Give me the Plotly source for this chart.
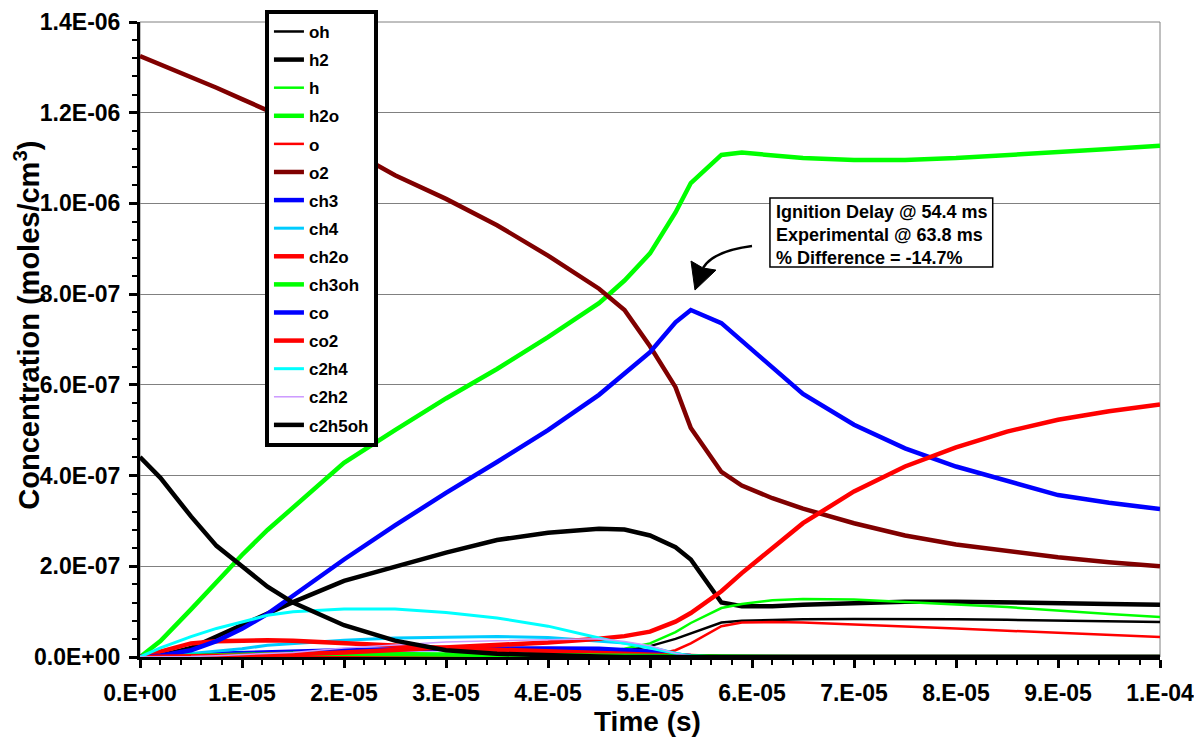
import plotly.graph_objects as go

# ---------------- data ----------------
time_s = [0, 2e-6, 5e-6, 7.5e-6, 1.0e-5, 1.25e-5, 1.5e-5, 2.0e-5, 2.5e-5, 3.0e-5,
          3.5e-5, 4.0e-5, 4.5e-5, 4.75e-5, 5.0e-5, 5.25e-5, 5.4e-5, 5.7e-5, 5.9e-5,
          6.2e-5, 6.5e-5, 7.0e-5, 7.5e-5, 8.0e-5, 8.5e-5, 9.0e-5, 9.5e-5, 1.0e-4]

UNIT = 1e-7  # concentrations below are in 1e-7 moles/cm^3

oh = [0, 0, 0, 0, 0, 0, 0, 0, 0, 0, 0, 0.02, 0.08, 0.14, 0.24, 0.4, 0.52, 0.76, 0.8,
      0.82, 0.83, 0.84, 0.84, 0.83, 0.82, 0.8, 0.79, 0.77]
h2 = [0, 0.03, 0.2, 0.45, 0.69, 0.95, 1.21, 1.68, 2.0, 2.3, 2.58, 2.74, 2.83, 2.81, 2.68,
      2.42, 2.15, 1.2, 1.12, 1.12, 1.15, 1.19, 1.22, 1.22, 1.21, 1.19, 1.17, 1.15]
h = [0, 0, 0, 0, 0, 0, 0, 0, 0, 0, 0, 0.02, 0.1, 0.18, 0.3, 0.55, 0.75, 1.08, 1.17,
     1.25, 1.28, 1.27, 1.22, 1.16, 1.1, 1.02, 0.95, 0.88]
h2o = [0, 0.35, 1.05, 1.65, 2.25, 2.8, 3.3, 4.28, 5.0, 5.7, 6.35, 7.05, 7.8, 8.3, 8.9,
       9.8, 10.45, 11.07, 11.12, 11.07, 11.0, 10.96, 10.96, 11.0, 11.06, 11.12, 11.2, 11.27]
o = [0, 0, 0, 0, 0, 0, 0, 0, 0, 0, 0, 0, 0, 0.01, 0.03, 0.15, 0.3, 0.68, 0.76,
     0.77, 0.76, 0.72, 0.68, 0.63, 0.58, 0.53, 0.49, 0.44]
o2 = [13.25, 13.07, 12.8, 12.55, 12.3, 12.05, 11.8, 11.25, 10.62, 10.1, 9.52, 8.85, 8.12,
      7.65, 6.85, 5.95, 5.05, 4.08, 3.78, 3.5, 3.27, 2.95, 2.68, 2.48, 2.33, 2.2, 2.09, 2.0]
ch3 = [0, 0.01, 0.04, 0.07, 0.09, 0.11, 0.13, 0.15, 0.17, 0.18, 0.19, 0.19, 0.18, 0.16,
       0.12, 0.05, 0.02, 0, 0, 0, 0, 0, 0, 0, 0, 0, 0, 0]
ch4 = [0, 0.02, 0.08, 0.13, 0.18, 0.26, 0.3, 0.37, 0.42, 0.44, 0.45, 0.43, 0.36, 0.31,
       0.22, 0.08, 0.02, 0, 0, 0, 0, 0, 0, 0, 0, 0, 0, 0]
ch2o = [0, 0.12, 0.3, 0.35, 0.37, 0.37, 0.36, 0.3, 0.25, 0.2, 0.16, 0.12, 0.09, 0.07,
        0.05, 0.02, 0.01, 0, 0, 0, 0, 0, 0, 0, 0, 0, 0, 0]
ch3oh = [0, 0.01, 0.03, 0.05, 0.06, 0.07, 0.07, 0.07, 0.06, 0.05, 0.04, 0.03, 0.02, 0.02,
         0.01, 0, 0, 0, 0, 0, 0, 0, 0, 0, 0, 0, 0, 0]
co = [0, 0.03, 0.15, 0.35, 0.62, 0.95, 1.35, 2.15, 2.9, 3.62, 4.3, 5.0, 5.78, 6.25, 6.72,
      7.38, 7.65, 7.36, 6.97, 6.38, 5.8, 5.12, 4.6, 4.2, 3.88, 3.57, 3.4, 3.26]
co2 = [0, 0, 0.01, 0.02, 0.03, 0.04, 0.06, 0.1, 0.15, 0.2, 0.26, 0.32, 0.4, 0.46, 0.56,
       0.78, 0.97, 1.45, 1.85, 2.4, 2.95, 3.65, 4.2, 4.62, 4.97, 5.23, 5.42, 5.57]
c2h4 = [0, 0.2, 0.45, 0.63, 0.77, 0.92, 1.0, 1.06, 1.06, 0.98, 0.86, 0.68, 0.42, 0.3,
        0.2, 0.08, 0.03, 0, 0, 0, 0, 0, 0, 0, 0, 0, 0, 0]
c2h2 = [0, 0, 0.01, 0.03, 0.05, 0.07, 0.1, 0.2, 0.27, 0.33, 0.36, 0.38, 0.4, 0.34,
        0.25, 0.08, 0.02, 0, 0, 0, 0, 0, 0, 0, 0, 0, 0, 0]
c2h5oh = [4.41, 3.95, 3.1, 2.45, 2.0, 1.55, 1.2, 0.7, 0.36, 0.15, 0.07, 0.03, 0.01, 0,
          0, 0, 0, 0, 0, 0, 0, 0, 0, 0, 0, 0, 0, 0]

species = ["oh", "h2", "h", "h2o", "o", "o2", "ch3", "ch4", "ch2o", "ch3oh",
           "co", "co2", "c2h4", "c2h2", "c2h5oh"]
series = [oh, h2, h, h2o, o, o2, ch3, ch4, ch2o, ch3oh, co, co2, c2h4, c2h2, c2h5oh]
colors = ["#000000", "#000000", "#00FF00", "#00FF00", "#FF0000", "#800000", "#0000FF",
          "#00CCFF", "#FF0000", "#00FF00", "#0000FF", "#FF0000", "#00FFFF", "#CC99FF",
          "#000000"]
widths = [2.5, 4.5, 2.5, 4.5, 2.5, 4.5, 4.5, 3, 4.5, 4.5, 4.5, 4.5, 3, 1.5, 4.5]

x_tickvals = [0, 1e-5, 2e-5, 3e-5, 4e-5, 5e-5, 6e-5, 7e-5, 8e-5, 9e-5, 1e-4]
x_ticktext = ["0.E+00", "1.E-05", "2.E-05", "3.E-05", "4.E-05", "5.E-05", "6.E-05",
              "7.E-05", "8.E-05", "9.E-05", "1.E-04"]
y_tickvals = [0, 2e-7, 4e-7, 6e-7, 8e-7, 1.0e-6, 1.2e-6, 1.4e-6]
y_ticktext = ["0.0E+00", "2.0E-07", "4.0E-07", "6.0E-07", "8.0E-07", "1.0E-06",
              "1.2E-06", "1.4E-06"]

note_lines = ["Ignition Delay @ 54.4 ms", "Experimental @ 63.8 ms", "% Difference = -14.7%"]

# ---------------- figure ----------------
FONT = "Arial, 'Liberation Sans', Helvetica, sans-serif"
fig = go.Figure()
for name, vals, col, w in zip(species, series, colors, widths):
    fig.add_trace(go.Scatter(
        x=time_s, y=[v * UNIT for v in vals], mode="lines", name=name,
        legendgroup=name, line=dict(color=col, width=w)))

fig.update_layout(
    width=1194, height=744,
    margin=dict(l=140, r=34, t=22, b=87, autoexpand=False),
    paper_bgcolor="white", plot_bgcolor="white",
    font=dict(family=FONT, color="black"),
    showlegend=True,
    legend=dict(x=0.1225, y=1.0, xanchor="left", yanchor="top",
                bgcolor="white", bordercolor="black", borderwidth=4,
                font=dict(size=17, weight="bold", family=FONT),
                tracegroupgap=3, traceorder="grouped", itemwidth=30),
)
# legend top sits slightly above the plot area in the reference
try:
    fig.update_layout(legend_maxheight=600, legend_y=1.019)
except Exception:
    pass

fig.update_xaxes(
    range=[0, 1e-4], tickvals=x_tickvals, ticktext=x_ticktext, automargin=False,
    tickfont=dict(size=23, weight="bold", family=FONT),
    showgrid=False, zeroline=False,
    showline=True, linecolor="black", linewidth=3,
    ticks="outside", ticklen=8, tickwidth=3, tickcolor="black",
    minor=dict(dtick=2e-6, ticks="outside", ticklen=5, tickwidth=2, tickcolor="black"),
)
fig.update_yaxes(
    range=[0, 1.4e-6], tickvals=y_tickvals, ticktext=y_ticktext, automargin=False,
    tickfont=dict(size=23, weight="bold", family=FONT),
    showgrid=True, gridcolor="#808080", gridwidth=1, zeroline=False,
    showline=True, linecolor="black", linewidth=3,
    ticks="outside", ticklen=8, tickwidth=3, tickcolor="black",
    minor=dict(dtick=4e-8, ticks="outside", ticklen=5, tickwidth=2, tickcolor="black",
               showgrid=False),
)
try:
    fig.update_xaxes(ticklabelstandoff=5, ticklabeloverflow="allow")
    fig.update_yaxes(ticklabelstandoff=4, ticklabeloverflow="allow")
except Exception:
    pass

# plot-area border (gray), axis titles
fig.add_shape(type="rect", xref="paper", yref="paper", x0=0, y0=0, x1=1, y1=1,
              line=dict(color="#808080", width=1), layer="below")
fig.add_annotation(xref="paper", yref="paper", x=0.498, y=-0.102,
                   text="Time (s)", showarrow=False, xanchor="center", yanchor="middle",
                   font=dict(size=28, weight="bold", family=FONT))
fig.add_annotation(xref="paper", yref="paper", x=-0.111, y=0.523, textangle=-90,
                   text="Concentration (moles/cm<sup>3</sup>)", showarrow=False,
                   xanchor="center", yanchor="middle",
                   font=dict(size=29, weight="bold", family=FONT))

# ignition delay note box
fig.add_shape(type="rect", xref="x", yref="y", x0=6.176e-5, x1=8.36e-5,
              y0=8.6e-7, y1=1.012e-6, line=dict(color="black", width=1.5),
              fillcolor="white", layer="above")
for i, line_txt in enumerate(note_lines):
    fig.add_annotation(xref="x", yref="y", x=6.215e-5, y=(9.82e-7 - i * 0.507e-7),
                       text=line_txt, showarrow=False, xanchor="left", yanchor="middle",
                       font=dict(size=18, weight="bold", family=FONT))

# curved arrow pointing at the CO peak
fig.add_shape(type="path", xref="x", yref="y",
              path="M 6.0e-5,9.06e-7 Q 5.62e-5,8.95e-7 5.52e-5,8.58e-7",
              line=dict(color="black", width=2.5))
fig.add_shape(type="path", xref="x", yref="y",
              path="M 5.441e-5,8.09e-7 L 5.402e-5,8.73e-7 L 5.52e-5,8.576e-7 "
                   "L 5.647e-5,8.53e-7 Z",
              fillcolor="black", line=dict(color="black", width=1))

fig.write_html("out.html",
               config={"displayModeBar": False},
               post_script="document.body.style.margin='0px';"
                           "document.body.style.overflow='hidden';")
